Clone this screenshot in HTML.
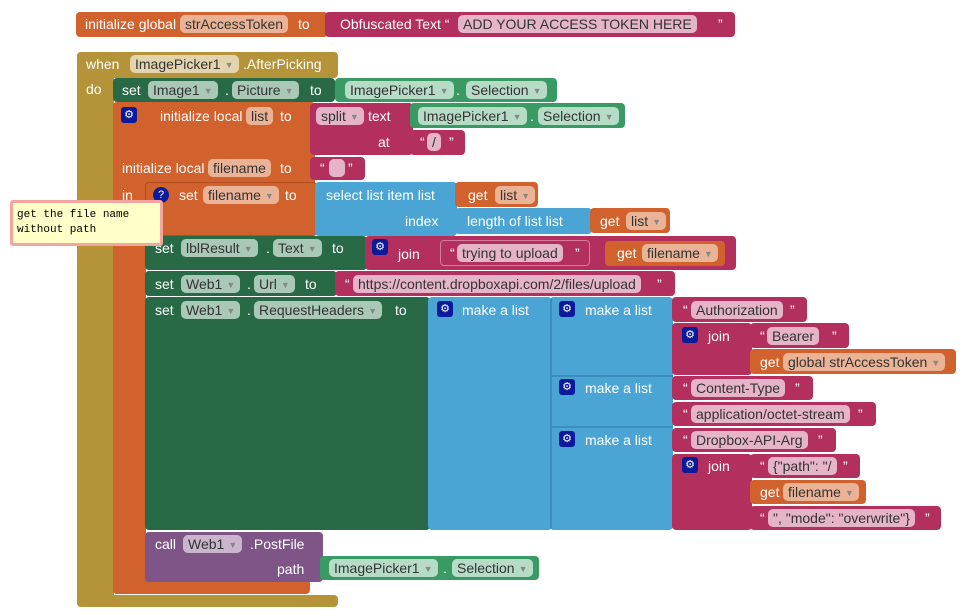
<!DOCTYPE html>
<html><head><meta charset="utf-8"><style>
body{margin:0;width:963px;height:615px;background:#fff;position:relative;overflow:hidden;font-family:"Liberation Sans",Arial,sans-serif;font-size:14px}
.b{position:absolute;border-radius:4px}
.t{position:absolute;color:#fff;white-space:nowrap;line-height:18px;height:18px}
.p{position:absolute;white-space:nowrap;line-height:18px;height:18px;border-radius:5px;padding:0 5px;color:#333}
.p i{font-style:normal;font-size:9px;color:#888;margin-left:4px;vertical-align:1px}
.g{position:absolute;width:16px;height:16px;background:#0a1a9a;border-radius:3px;color:#fff;font-size:11px;line-height:16px;text-align:center}
.o{background:#d2622d}.og{background:#b49339}.dg{background:#276a45}.lg{background:#3a9a64}.m{background:#b3305e}.bl{background:#4aa5d5}.pu{background:#7f5587}
.po{background:#ebb395}.pm{background:#e6b4c8}.pd{background:#a9c9b6}.pl{background:#b6dcc6}.pg{background:#e4d4ad}.pp{background:#c9b6cd}
</style></head><body>

<div class="b o" style="left:76px;top:12px;width:252px;height:25px"></div>
<div class="b m" style="left:325px;top:12px;width:410px;height:25px"></div>
<div class="t" style="left:85px;top:15px">initialize global</div>
<div class="p po" style="left:180px;top:15px">strAccessToken</div>
<div class="t" style="left:298px;top:15px">to</div>
<div class="t" style="left:340px;top:15px">Obfuscated Text “</div>
<div class="p pm" style="left:458px;top:15px">ADD YOUR ACCESS TOKEN HERE</div>
<div class="t" style="left:718px;top:15px">”</div>

<div class="b og" style="left:77px;top:52px;width:261px;height:26px"></div>
<div class="b og" style="left:77px;top:52px;width:37px;height:555px"></div>
<div class="b og" style="left:77px;top:595px;width:261px;height:12px"></div>
<div class="t" style="left:86px;top:55px">when</div>
<div class="p pg" style="left:130px;top:55px">ImagePicker1<i>▼</i></div>
<div class="t" style="left:243px;top:55px">.AfterPicking</div>
<div class="t" style="left:86px;top:80px">do</div>

<div class="b dg" style="left:113px;top:78px;width:222px;height:24px"></div>
<div class="b lg" style="left:335px;top:78px;width:222px;height:24px"></div>
<div class="t" style="left:122px;top:81px">set</div>
<div class="p pd" style="left:148px;top:81px">Image1<i>▼</i></div>
<div class="t" style="left:225px;top:81px">.</div>
<div class="p pd" style="left:232px;top:81px">Picture<i>▼</i></div>
<div class="t" style="left:310px;top:81px">to</div>
<div class="p pl" style="left:345px;top:81px">ImagePicker1<i>▼</i></div>
<div class="t" style="left:456px;top:81px">.</div>
<div class="p pl" style="left:466px;top:81px">Selection<i>▼</i></div>

<div class="b o" style="left:113px;top:102px;width:202px;height:134px"></div>
<div class="b o" style="left:113px;top:102px;width:33px;height:492px"></div>
<div class="b o" style="left:113px;top:580px;width:197px;height:14px"></div>
<div class="g" style="left:121px;top:107px">⚙</div>
<div class="t" style="left:160px;top:107px">initialize local</div>
<div class="p po" style="left:246px;top:107px">list</div>
<div class="t" style="left:280px;top:107px">to</div>
<div class="b m" style="left:310px;top:103px;width:103px;height:52px"></div>
<div class="p pm" style="left:316px;top:107px">split<i>▼</i></div>
<div class="t" style="left:368px;top:107px">text</div>
<div class="t" style="left:378px;top:133px">at</div>
<div class="b lg" style="left:410px;top:103px;width:215px;height:25px"></div>
<div class="p pl" style="left:418px;top:107px">ImagePicker1<i>▼</i></div>
<div class="t" style="left:530px;top:107px">.</div>
<div class="p pl" style="left:538px;top:107px">Selection<i>▼</i></div>
<div class="b m" style="left:410px;top:130px;width:55px;height:25px"></div>
<div class="t" style="left:420px;top:133px">“</div>
<div class="p pm" style="left:427px;top:133px">/</div>
<div class="t" style="left:449px;top:133px">”</div>
<div class="t" style="left:122px;top:159px">initialize local</div>
<div class="p po" style="left:208px;top:159px">filename</div>
<div class="t" style="left:280px;top:159px">to</div>
<div class="b m" style="left:310px;top:157px;width:55px;height:23px"></div>
<div class="t" style="left:320px;top:159px">“</div>
<div class="p pm" style="left:329px;top:159px;width:6px"></div>
<div class="t" style="left:348px;top:159px">”</div>
<div class="t" style="left:122px;top:186px">in</div>

<div class="b o" style="left:145px;top:182px;width:172px;height:54px;border:1px solid #b04e20;box-sizing:border-box"></div>
<div class="g" style="left:153px;top:187px;border-radius:8px">?</div>
<div class="t" style="left:179px;top:186px">set</div>
<div class="p po" style="left:203px;top:186px">filename<i>▼</i></div>
<div class="t" style="left:285px;top:186px">to</div>
<div class="b bl" style="left:315px;top:182px;width:142px;height:54px"></div>
<div class="t" style="left:326px;top:186px">select list item  list</div>
<div class="t" style="left:405px;top:212px">index</div>
<div class="b o" style="left:455px;top:182px;width:83px;height:25px"></div>
<div class="t" style="left:468px;top:186px">get</div>
<div class="p po" style="left:495px;top:186px">list<i>▼</i></div>
<div class="b bl" style="left:455px;top:208px;width:137px;height:26px"></div>
<div class="t" style="left:467px;top:212px">length of list  list</div>
<div class="b o" style="left:590px;top:208px;width:80px;height:25px"></div>
<div class="t" style="left:600px;top:212px">get</div>
<div class="p po" style="left:626px;top:212px">list<i>▼</i></div>

<div class="b dg" style="left:145px;top:236px;width:222px;height:34px"></div>
<div class="t" style="left:155px;top:239px">set</div>
<div class="p pd" style="left:181px;top:239px">lblResult<i>▼</i></div>
<div class="t" style="left:266px;top:239px">.</div>
<div class="p pd" style="left:273px;top:239px">Text<i>▼</i></div>
<div class="t" style="left:332px;top:239px">to</div>
<div class="b m" style="left:365px;top:236px;width:371px;height:34px"></div>
<div class="g" style="left:372px;top:239px">⚙</div>
<div class="t" style="left:398px;top:245px">join</div>
<div class="b m" style="left:440px;top:240px;width:150px;height:26px;border:1px solid #d978a0;box-sizing:border-box"></div>
<div class="t" style="left:450px;top:244px">“</div>
<div class="p pm" style="left:457px;top:244px">trying to upload</div>
<div class="t" style="left:575px;top:244px">”</div>
<div class="b o" style="left:605px;top:241px;width:120px;height:25px"></div>
<div class="t" style="left:617px;top:244px">get</div>
<div class="p po" style="left:642px;top:244px">filename<i>▼</i></div>

<div class="b dg" style="left:145px;top:271px;width:192px;height:25px"></div>
<div class="t" style="left:155px;top:275px">set</div>
<div class="p pd" style="left:181px;top:275px">Web1<i>▼</i></div>
<div class="t" style="left:247px;top:275px">.</div>
<div class="p pd" style="left:254px;top:275px">Url<i>▼</i></div>
<div class="t" style="left:305px;top:275px">to</div>
<div class="b m" style="left:335px;top:271px;width:340px;height:25px"></div>
<div class="t" style="left:345px;top:275px">“</div>
<div class="p pm" style="left:353px;top:275px">https://content.dropboxapi.com/2/files/upload</div>
<div class="t" style="left:657px;top:275px">”</div>

<div class="b dg" style="left:145px;top:297px;width:285px;height:233px"></div>
<div class="t" style="left:155px;top:301px">set</div>
<div class="p pd" style="left:181px;top:301px">Web1<i>▼</i></div>
<div class="t" style="left:247px;top:301px">.</div>
<div class="p pd" style="left:254px;top:301px">RequestHeaders<i>▼</i></div>
<div class="t" style="left:395px;top:301px">to</div>
<div class="b bl" style="left:428px;top:297px;width:124px;height:233px"></div>
<div class="g" style="left:437px;top:301px">⚙</div>
<div class="t" style="left:462px;top:301px">make a list</div>
<div class="b bl" style="left:550px;top:297px;width:123px;height:233px;border-left:2px solid #3d8fbb;box-sizing:border-box"></div>
<div class="b" style="left:552px;top:375px;width:121px;height:2px;background:#3d8fbb;border-radius:0"></div>
<div class="b" style="left:552px;top:426px;width:121px;height:2px;background:#3d8fbb;border-radius:0"></div>
<div class="g" style="left:559px;top:301px">⚙</div>
<div class="t" style="left:585px;top:301px">make a list</div>
<div class="g" style="left:559px;top:379px">⚙</div>
<div class="t" style="left:585px;top:379px">make a list</div>
<div class="g" style="left:559px;top:431px">⚙</div>
<div class="t" style="left:585px;top:431px">make a list</div>

<div class="b m" style="left:672px;top:297px;width:135px;height:25px"></div>
<div class="t" style="left:683px;top:301px">“</div>
<div class="p pm" style="left:691px;top:301px">Authorization</div>
<div class="t" style="left:790px;top:301px">”</div>
<div class="b m" style="left:672px;top:323px;width:80px;height:52px"></div>
<div class="g" style="left:682px;top:327px">⚙</div>
<div class="t" style="left:708px;top:327px">join</div>
<div class="b m" style="left:750px;top:323px;width:99px;height:25px"></div>
<div class="t" style="left:760px;top:327px">“</div>
<div class="p pm" style="left:767px;top:327px">Bearer</div>
<div class="t" style="left:832px;top:327px">”</div>
<div class="b o" style="left:750px;top:349px;width:206px;height:25px"></div>
<div class="t" style="left:760px;top:353px">get</div>
<div class="p po" style="left:783px;top:353px">global strAccessToken<i>▼</i></div>

<div class="b m" style="left:672px;top:376px;width:141px;height:24px"></div>
<div class="t" style="left:683px;top:379px">“</div>
<div class="p pm" style="left:691px;top:379px">Content-Type</div>
<div class="t" style="left:795px;top:379px">”</div>
<div class="b m" style="left:672px;top:402px;width:204px;height:24px"></div>
<div class="t" style="left:683px;top:405px">“</div>
<div class="p pm" style="left:691px;top:405px">application/octet-stream</div>
<div class="t" style="left:858px;top:405px">”</div>

<div class="b m" style="left:672px;top:428px;width:164px;height:24px"></div>
<div class="t" style="left:683px;top:431px">“</div>
<div class="p pm" style="left:691px;top:431px">Dropbox-API-Arg</div>
<div class="t" style="left:818px;top:431px">”</div>
<div class="b m" style="left:672px;top:454px;width:80px;height:76px"></div>
<div class="g" style="left:682px;top:457px">⚙</div>
<div class="t" style="left:708px;top:457px">join</div>
<div class="b m" style="left:750px;top:454px;width:110px;height:24px"></div>
<div class="t" style="left:760px;top:457px">“</div>
<div class="p pm" style="left:768px;top:457px">{"path": "/</div>
<div class="t" style="left:843px;top:457px">”</div>
<div class="b o" style="left:750px;top:480px;width:116px;height:24px"></div>
<div class="t" style="left:760px;top:483px">get</div>
<div class="p po" style="left:783px;top:483px">filename<i>▼</i></div>
<div class="b m" style="left:750px;top:506px;width:191px;height:24px"></div>
<div class="t" style="left:760px;top:509px">“</div>
<div class="p pm" style="left:768px;top:509px">", "mode": "overwrite"}</div>
<div class="t" style="left:925px;top:509px">”</div>

<div class="b pu" style="left:145px;top:532px;width:178px;height:50px"></div>
<div class="t" style="left:155px;top:535px">call</div>
<div class="p pp" style="left:183px;top:535px">Web1<i>▼</i></div>
<div class="t" style="left:250px;top:535px">.PostFile</div>
<div class="t" style="left:277px;top:560px">path</div>
<div class="b lg" style="left:320px;top:556px;width:219px;height:24px"></div>
<div class="p pl" style="left:329px;top:559px">ImagePicker1<i>▼</i></div>
<div class="t" style="left:443px;top:559px">.</div>
<div class="p pl" style="left:452px;top:559px">Selection<i>▼</i></div>

<div class="b" style="left:10px;top:200px;width:153px;height:46px;background:#ffffc8;border:3px solid #f4a59e;box-sizing:border-box;border-radius:3px"></div>
<div style="position:absolute;left:17px;top:208px;font-family:'Liberation Mono',monospace;font-size:11px;line-height:15px;color:#000">get the file name<br>without path</div>
</body></html>
